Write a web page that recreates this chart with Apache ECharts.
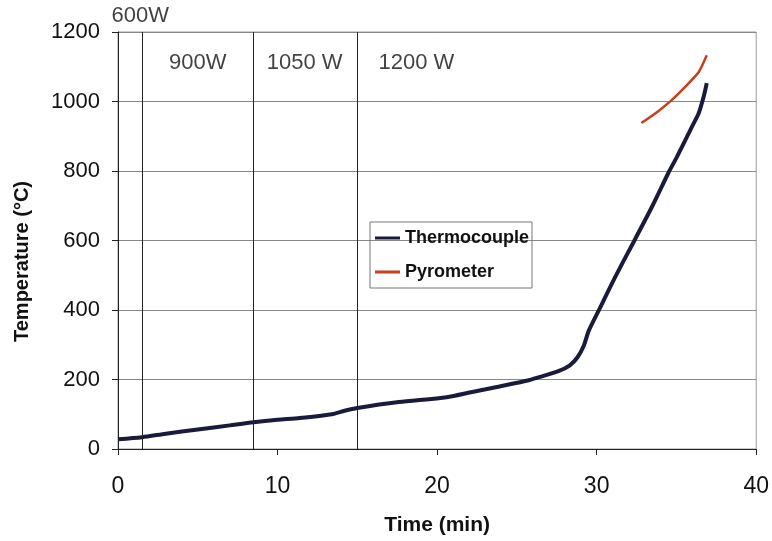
<!DOCTYPE html>
<html>
<head>
<meta charset="utf-8">
<script src="https://cdn.jsdelivr.net/npm/echarts@6/dist/echarts.min.js"></script>
<style>html,body{margin:0;padding:0;background:#fff}#c{width:772px;height:541px}</style>
</head>
<body>
<div id="c"></div>
<script>
// Thermocouple readings: [time (min), temperature (°C)]
var thermoTime = [0, 1.5, 3, 5, 7, 8.5, 10, 11.4, 13.4, 14.2, 15, 17.6, 20.6, 22.2, 23.9, 25.75, 26.4, 27.6, 28.3, 28.8, 29.2, 29.5, 30.1, 31.2, 32.4, 33.5, 34.5, 35, 36, 36.4, 36.7, 36.9];
var thermoTemp = [28, 34, 44, 56, 68, 77, 84, 89, 100, 110, 118, 135, 149, 164, 180, 198, 207, 224, 240, 264, 298, 340, 396, 498, 603, 700, 795, 838, 930, 967, 1013, 1053];
// Pyrometer readings
var pyroTime = [32.8, 33.8, 34.7, 35.5, 36.4, 36.9];
var pyroTemp = [938, 970, 1004, 1040, 1085, 1133];
// Power-level boundaries (min)
var powerSteps = [1.5, 8.5, 15];
// Power-level labels with their anchor in data coordinates
var powerLabels = ['600W', '900W', '1050 W', '1200 W'];
var powerLabelX = [1.4, 5, 11.7, 18.7];
var powerLabelY = [1245, 1110, 1110, 1110];
var xTicks = [0, 10, 20, 30, 40];
var yTicks = [0, 200, 400, 600, 800, 1000, 1200];

function zip(a, b) { return a.map(function (v, i) { return [v, b[i]]; }); }

var chart = echarts.init(document.getElementById('c'));
var font = 'Liberation Sans, Arial, sans-serif';
chart.setOption({
  animation: false,
  backgroundColor: '#fff',
  grid: { left: 118, right: 15, top: 32, bottom: 91, show: true, borderColor: '#999', borderWidth: 1 },
  xAxis: {
    type: 'value', min: xTicks[0], max: xTicks[xTicks.length - 1], interval: 10,
    name: 'Time (min)', nameLocation: 'middle', nameGap: 66,
    nameTextStyle: { fontFamily: font, fontWeight: 'bold', fontSize: 21, color: '#111' },
    axisLine: { lineStyle: { color: '#222', width: 1 } },
    axisTick: { show: true, length: 6, lineStyle: { color: '#222' } },
    axisLabel: { fontFamily: font, fontSize: 23, color: '#111', margin: 26, formatter: function (v) { return String(v); } },
    splitLine: { show: false }
  },
  yAxis: {
    type: 'value', min: yTicks[0], max: yTicks[yTicks.length - 1], interval: 200,
    name: 'Temperature (\u00B0C)', nameLocation: 'middle', nameGap: 86,
    nameTextStyle: { fontFamily: font, fontWeight: 'bold', fontSize: 20, color: '#111', padding: [0, 42, 0, 0] },
    axisLine: { show: true, lineStyle: { color: '#222', width: 1 } },
    axisTick: { show: true, length: 6, lineStyle: { color: '#222' } },
    axisLabel: { fontFamily: font, fontSize: 22, color: '#111', margin: 18, formatter: function (v) { return String(v); } },
    splitLine: { show: true, lineStyle: { color: '#888', width: 1 } }
  },
  legend: {
    left: 370, top: 222, orient: 'vertical',
    data: ['Thermocouple', 'Pyrometer'],
    itemWidth: 25, itemHeight: 3, itemGap: 16,
    borderColor: '#777', borderWidth: 1, padding: [7, 3, 7, 5],
    icon: 'rect',
    textStyle: { fontFamily: font, fontWeight: 'bold', fontSize: 18, color: '#111' }
  },
  series: [
    {
      name: 'Thermocouple', type: 'line', data: zip(thermoTime, thermoTemp),
      smooth: 0.25, showSymbol: false, symbol: 'none',
      lineStyle: { color: '#1a1a3c', width: 4 }, itemStyle: { color: '#1a1a3c' },
      markLine: {
        silent: true, symbol: 'none', label: { show: false },
        lineStyle: { color: '#222', width: 1, type: 'solid' },
        data: powerSteps.map(function (v) { return { xAxis: v }; })
      },
      z: 3
    },
    {
      name: 'Pyrometer', type: 'line', data: zip(pyroTime, pyroTemp),
      smooth: 0.2, showSymbol: false, symbol: 'none',
      lineStyle: { color: '#c4401c', width: 2.5 }, itemStyle: { color: '#c4401c' }, z: 3
    },
    {
      name: 'labels', type: 'scatter', symbolSize: 0, silent: true, clip: false,
      data: powerLabels.map(function (t, i) { return { value: [powerLabelX[i], powerLabelY[i]], name: t }; }),
      label: { show: true, position: 'inside', formatter: '{b}', fontFamily: font, fontSize: 22, color: '#111' }
    }
  ]
});
</script>
</body>
</html>
